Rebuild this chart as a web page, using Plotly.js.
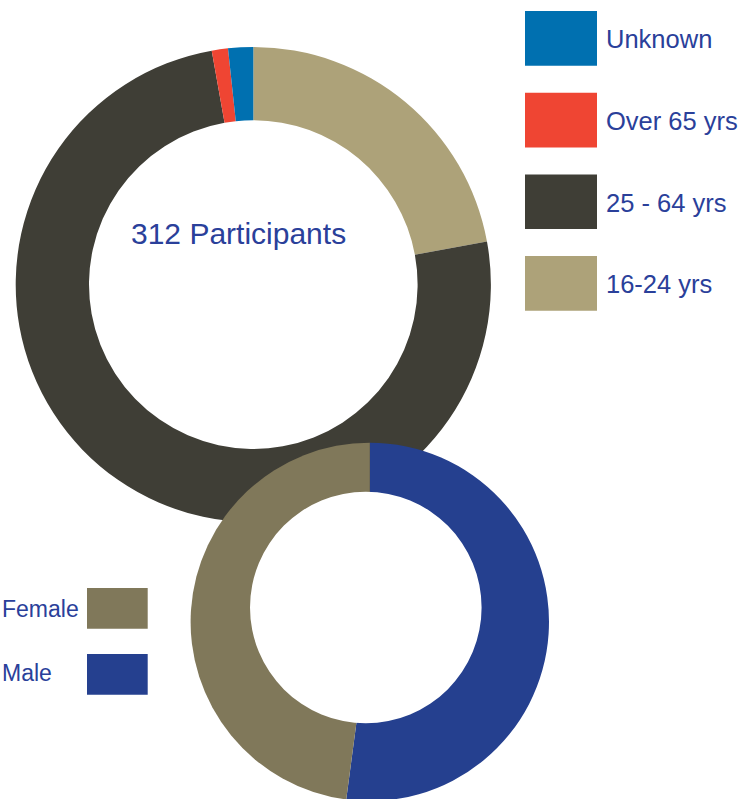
<!DOCTYPE html>
<html><head><meta charset="utf-8">
<script src="https://cdn.plot.ly/plotly-3.0.1.min.js"></script>
<style>html,body{margin:0;padding:0;overflow:hidden;background:#fff}#chart{width:744px;height:810px}</style>
</head><body><div id="chart"></div>
<script>
// ---- data ----
const ageLabels = ['16-24 yrs', '25 - 64 yrs', 'Over 65 yrs', 'Unknown'];
const ageValues = [22.1, 75.1, 1.1, 1.7];
const ageColors = ['#ada279', '#3f3e36', '#ef4533', '#0070b0'];
const genderLabels = ['Male', 'Female'];
const genderValues = [52.1, 47.9];
const genderColors = ['#25408f', '#80785a'];
const centerLabel = '312 Participants';

// ---- layout helpers ----
const W = 744, H = 810;
const px = x => x / W, py = y => 1 - y / H;
function dom(cx, cy, r) { return {x: [px(cx - r), px(cx + r)], y: [py(cy + r), py(cy - r)]}; }
const textColor = '#2a409a';
const FONT = 'Liberation Sans, Arial, sans-serif';

const data = [
  {type: 'pie', labels: ageLabels, values: ageValues, marker: {colors: ageColors, line: {width: 0}},
   sort: false, direction: 'clockwise', rotation: 0, hole: 0.6915, textinfo: 'none',
   hoverinfo: 'label+percent', showlegend: false, domain: dom(253.3, 284.6, 237.6)},
  {type: 'pie', labels: genderLabels, values: genderValues, marker: {colors: genderColors, line: {width: 0}},
   sort: false, direction: 'clockwise', rotation: 0, hole: 0, textinfo: 'none',
   hoverinfo: 'label+percent', showlegend: false, domain: dom(369.8, 621.9, 179.2)},
  // white inner disc of the lower ring (its hole is off-centre)
  {type: 'pie', labels: ['hole'], values: [1], marker: {colors: ['#ffffff'], line: {width: 0}},
   sort: false, textinfo: 'none', hoverinfo: 'skip', showlegend: false, domain: dom(365.8, 607.5, 115.8)}
];

const shapes = [], annotations = [];
// top legend (reverse order)
const topOrder = ageLabels.map((_, i) => i).reverse();
topOrder.forEach((idx, k) => {
  const y0 = 11 + k * 81.7, y1 = y0 + 54.7;
  shapes.push({type: 'rect', xref: 'paper', yref: 'paper', x0: px(525), x1: px(597), y0: py(y1), y1: py(y0),
    fillcolor: ageColors[idx], line: {width: 0}});
  annotations.push({xref: 'paper', yref: 'paper', x: px(604), y: py((y0 + y1) / 2 + 1), xanchor: 'left', yanchor: 'middle',
    text: ageLabels[idx], showarrow: false, font: {family: FONT, size: 25.5, color: textColor}});
});
// bottom legend (reverse order)
const botOrder = genderLabels.map((_, i) => i).reverse();
botOrder.forEach((idx, k) => {
  const y0 = 588 + k * 66, y1 = y0 + 40.7;
  shapes.push({type: 'rect', xref: 'paper', yref: 'paper', x0: px(87), x1: px(147.7), y0: py(y1), y1: py(y0),
    fillcolor: genderColors[idx], line: {width: 0}});
  annotations.push({xref: 'paper', yref: 'paper', x: 0, y: py((y0 + y1) / 2 + 1 - k * 2.5), xanchor: 'left', yanchor: 'middle',
    text: genderLabels[idx], showarrow: false, font: {family: FONT, size: 23, color: textColor}});
});
annotations.push({xref: 'paper', yref: 'paper', x: px(238), y: py(233), xanchor: 'center', yanchor: 'middle',
  text: centerLabel, showarrow: false, font: {family: FONT, size: 30, color: textColor}});

const layout = {
  width: W, height: H, margin: {l: 0, r: 0, t: 0, b: 0},
  paper_bgcolor: '#ffffff', plot_bgcolor: '#ffffff',
  showlegend: false, shapes: shapes, annotations: annotations
};
Plotly.newPlot('chart', data, layout, {displayModeBar: false, staticPlot: true});
</script>
</body></html>
